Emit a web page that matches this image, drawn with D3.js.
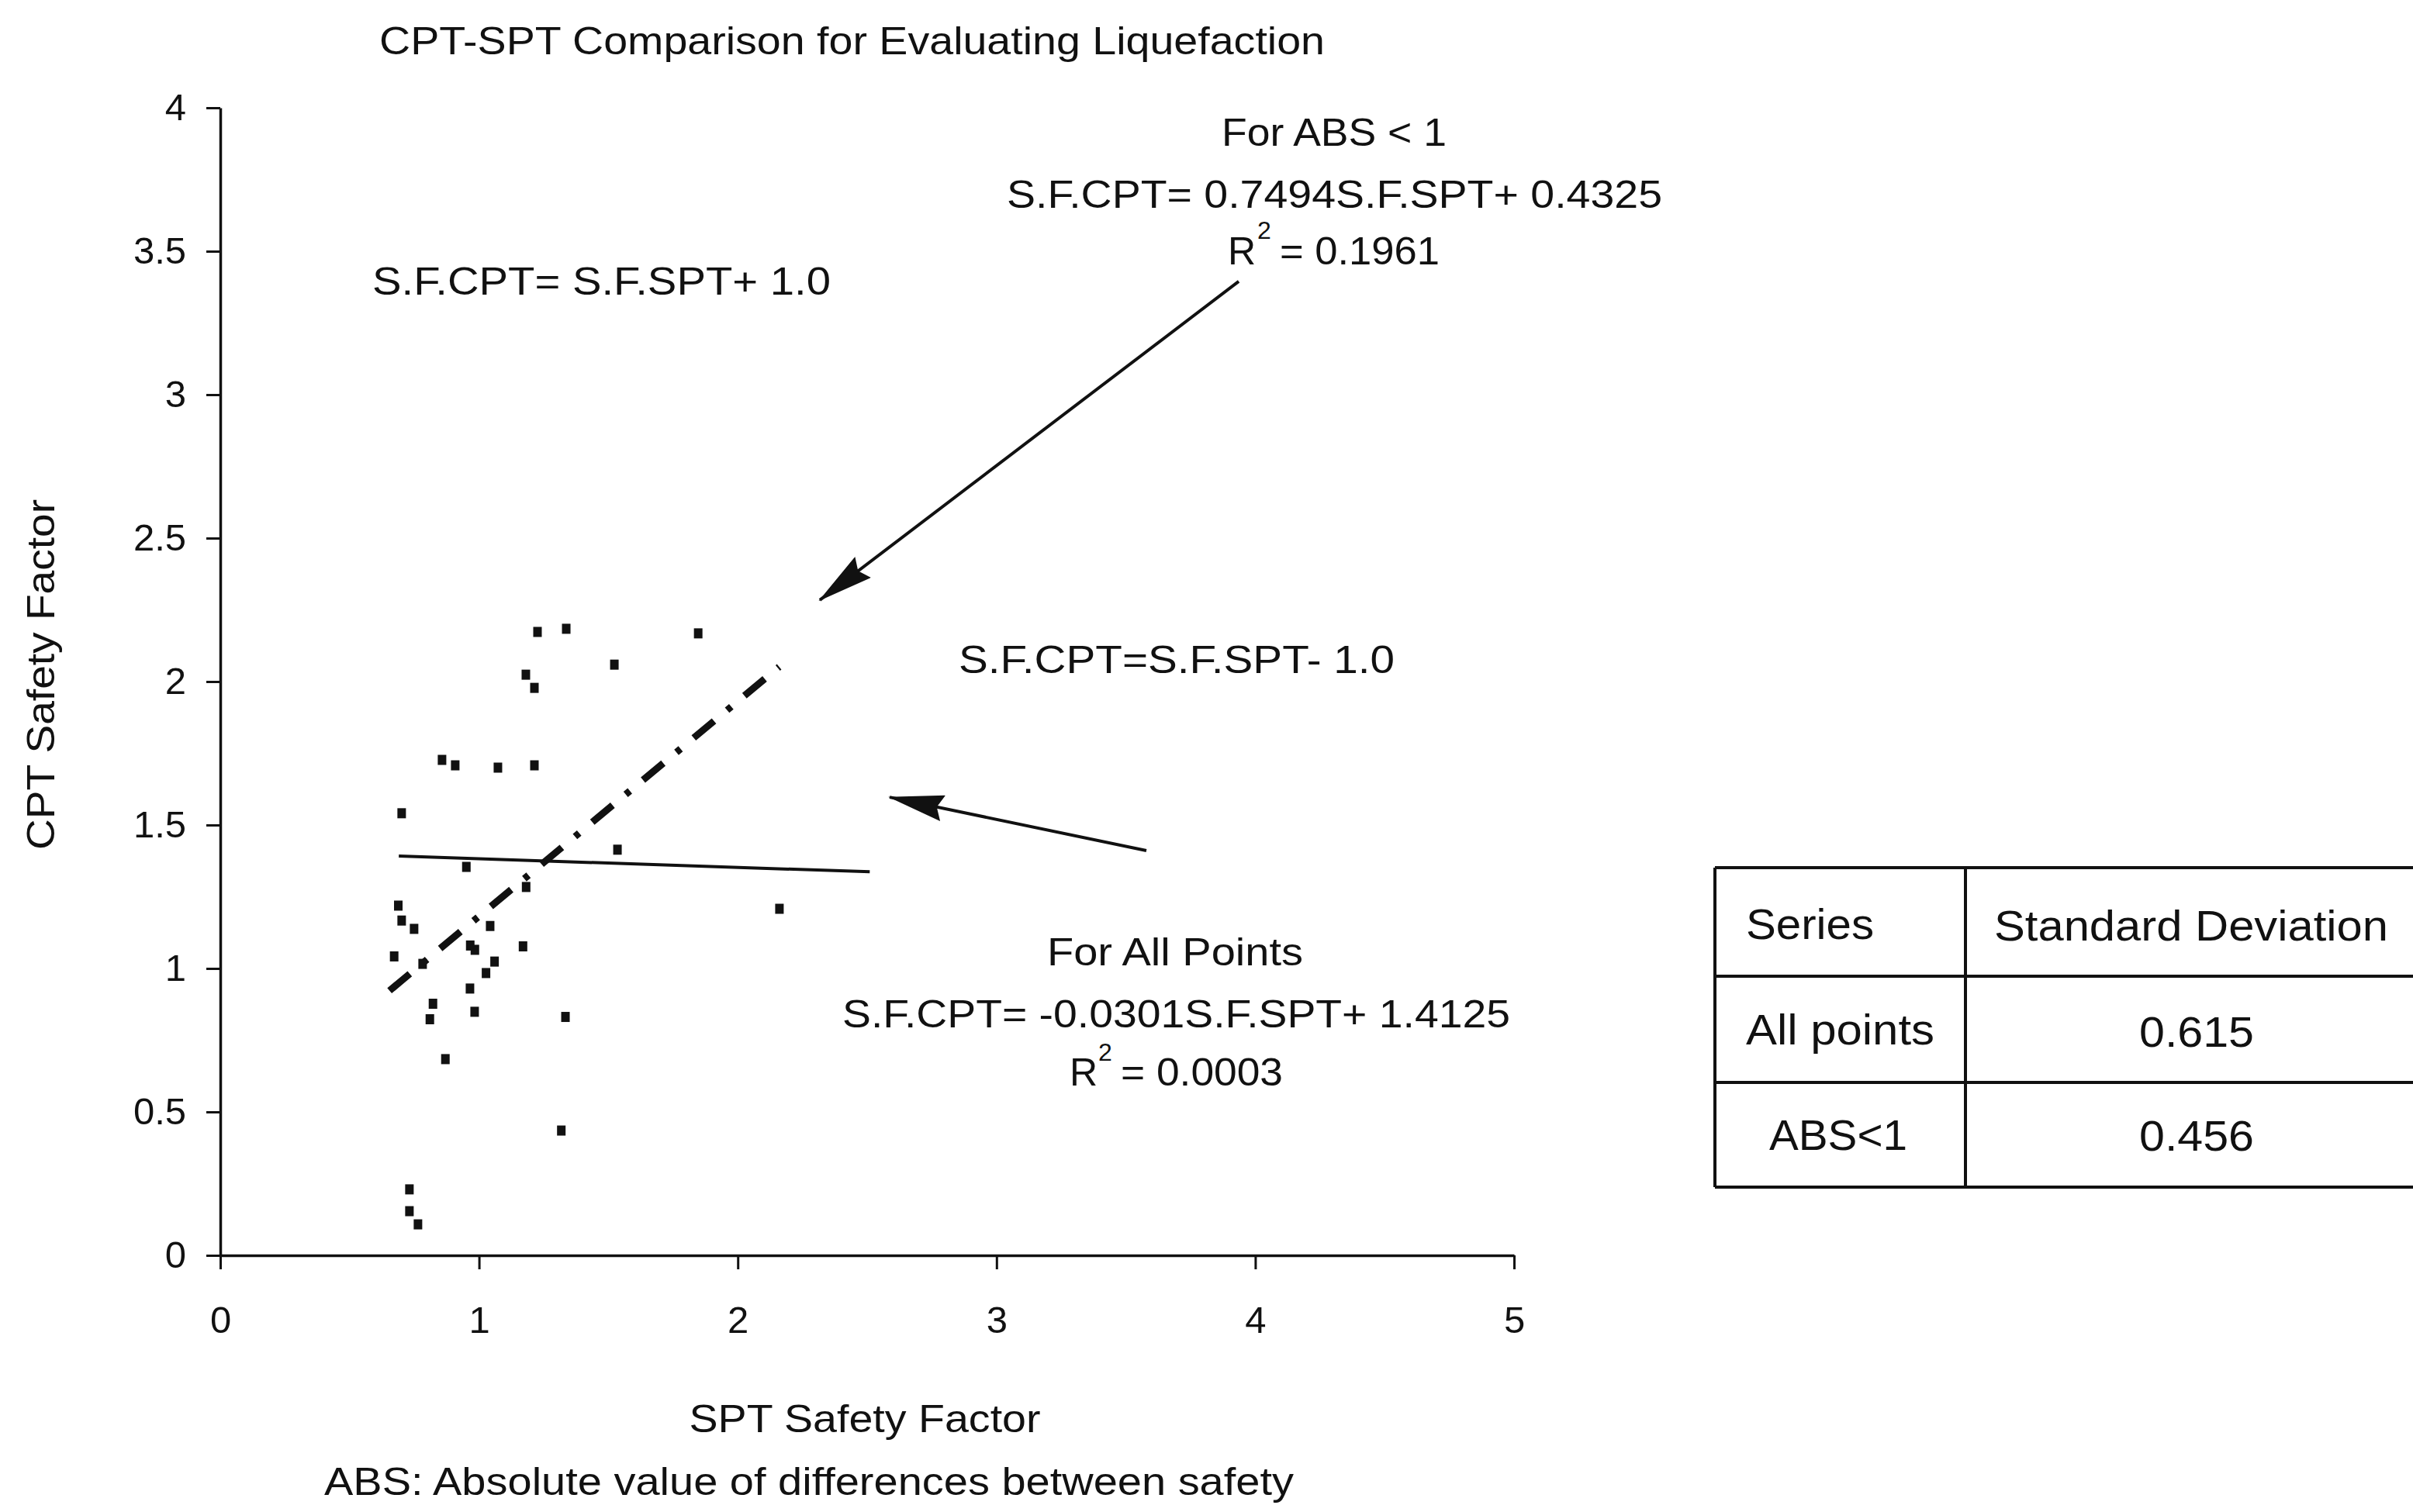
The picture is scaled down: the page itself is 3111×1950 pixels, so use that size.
<!DOCTYPE html>
<html><head><meta charset="utf-8">
<script src="https://cdn.jsdelivr.net/npm/d3@7"></script>
<style>
body{margin:0;background:#fff}
svg{display:block}
text{font-family:"Liberation Sans",Arial,Helvetica,sans-serif;fill:#111}
</style>
</head><body>
<svg id="chart" width="3111" height="1950"></svg>
<script>
// ---- data ----
const sptSF = [1.226,1.337,1.847,1.523,1.181,1.214,0.857,0.908,1.073,1.214,0.701,1.535,
               0.951,1.182,2.161,0.688,0.701,0.749,1.043,1.170,0.672,0.782,0.966,0.984,
               1.060,1.027,0.965,0.822,0.810,0.983,1.334,0.870,1.318,0.731,0.731,0.764];
const cptSF = [2.173,2.184,2.168,2.059,2.024,1.978,1.727,1.708,1.700,1.708,1.541,1.414,
               1.354,1.284,1.208,1.219,1.167,1.138,1.148,1.077,1.042,1.016,1.080,1.065,
               1.024,0.984,0.930,0.877,0.823,0.849,0.831,0.684,0.435,0.230,0.154,0.108];
const xTicks = [0,1,2,3,4,5];
const yTicks = [0,0.5,1,1.5,2,2.5,3,3.5,4];
const fitAllCoef = [-0.0301, 1.4125];
const fitAllRange = [0.69, 2.51];
const fitAbsCoef = [0.7494, 0.4325];
const fitAbsRange = [0.654, 2.16];
const arrowFrom = [[3.936,3.395],[3.579,1.411]];
const arrowTo   = [[2.317,2.284],[2.587,1.597]];
const tableHead = ["Series","Standard Deviation"];
const tableSeries = ["All points","ABS<1"];
const tableStd = ["0.615","0.456"];

const svg = d3.select("#chart");
const x = d3.scaleLinear().domain([0,5]).range([284,1952]);
const y = d3.scaleLinear().domain([0,4]).range([1619,139]);
const ink = "#111";

// arrow marker
svg.append("defs").append("marker")
  .attr("id","ah").attr("markerUnits","userSpaceOnUse")
  .attr("viewBox","0 0 72 34").attr("refX",70).attr("refY",17)
  .attr("markerWidth",72).attr("markerHeight",34).attr("orient","auto")
  .append("path").attr("d","M0,0 L72,17 L0,34 L8,17 Z").attr("fill",ink);

// axes
const gx = svg.append("g").attr("transform",`translate(0,${y(0)})`)
  .call(d3.axisBottom(x).tickValues(xTicks).tickSize(18).tickSizeOuter(0).tickPadding(47).tickFormat(d=>String(d)));
const gy = svg.append("g").attr("transform",`translate(${x(0)},0)`)
  .call(d3.axisLeft(y).tickValues(yTicks).tickSize(18).tickSizeOuter(0).tickPadding(26).tickFormat(d=>String(d)));
[gx,gy].forEach(g=>{
  g.select(".domain").attr("stroke",ink).attr("stroke-width",3.5);
  g.selectAll(".tick line").attr("stroke",ink).attr("stroke-width",3);
  g.selectAll(".tick text").attr("fill",ink).style("font-size","49px")
    .style("font-family",'"Liberation Sans",Arial,sans-serif');
});

// trend line: all points
svg.append("line")
  .attr("x1",x(fitAllRange[0])).attr("y1",y(fitAllCoef[0]*fitAllRange[0]+fitAllCoef[1]))
  .attr("x2",x(fitAllRange[1])).attr("y2",y(fitAllCoef[0]*fitAllRange[1]+fitAllCoef[1]))
  .attr("stroke",ink).attr("stroke-width",4);

// trend line: ABS < 1 (dash-dot)
svg.append("line")
  .attr("x1",x(fitAbsRange[0])).attr("y1",y(fitAbsCoef[0]*fitAbsRange[0]+fitAbsCoef[1]))
  .attr("x2",x(fitAbsRange[1])).attr("y2",y(fitAbsCoef[0]*fitAbsRange[1]+fitAbsCoef[1]))
  .attr("stroke",ink).attr("stroke-width",9).attr("stroke-dasharray","34,22,7,22");

// points
svg.append("g").selectAll("rect").data(sptSF).join("rect")
  .attr("x",(d)=>x(d)-5.5).attr("y",(d,i)=>y(cptSF[i])-6.5)
  .attr("width",11).attr("height",13).attr("fill",ink);

// arrows
arrowFrom.forEach((p,i)=>{
  svg.append("line")
    .attr("x1",x(p[0])).attr("y1",y(p[1]))
    .attr("x2",x(arrowTo[i][0])).attr("y2",y(arrowTo[i][1]))
    .attr("stroke",ink).attr("stroke-width",4).attr("marker-end","url(#ah)");
});

// text helper
function txt(s,xp,yp,size,len,anchor){
  const t = svg.append("text").attr("x",xp).attr("y",yp).style("font-size",size+"px")
    .attr("text-anchor",anchor||"start").text(s);
  if(len){ t.attr("textLength",len).attr("lengthAdjust","spacingAndGlyphs"); }
  return t;
}

// title
txt("CPT-SPT Comparison for Evaluating Liquefaction",489,70,50,1219);
// axis titles
txt("SPT Safety Factor",1115,1847,50,453,"middle");
svg.append("text").attr("transform","translate(70,870) rotate(-90)")
  .attr("text-anchor","middle").style("font-size","50px")
  .attr("textLength",452).attr("lengthAdjust","spacingAndGlyphs").text("CPT Safety Factor");
// footnote
txt("ABS: Absolute value of differences between safety",418,1928,50,1250);

// annotations
txt("For ABS < 1",1575,188,50,290);
txt("S.F.CPT= 0.7494S.F.SPT+ 0.4325",1298,268,50,845);
txt("R",1583,341,50);
txt("2",1621,308,32);
txt("= 0.1961",1650,341,50,206);
txt("S.F.CPT= S.F.SPT+ 1.0",480,380,50,591);
txt("S.F.CPT=S.F.SPT- 1.0",1236,868,50,562);
txt("For All Points",1350,1245,50,330);
txt("S.F.CPT= -0.0301S.F.SPT+ 1.4125",1086,1325,50,861);
txt("R",1379,1400,50);
txt("2",1416,1368,32);
txt("= 0.0003",1445,1400,50,209);

// table
const tb = svg.append("g");
const tL=2211, tC=2534, tR=3125, rows=[1119,1259,1396,1531];
rows.forEach(r=>tb.append("line").attr("x1",tL).attr("x2",tR).attr("y1",r).attr("y2",r)
  .attr("stroke",ink).attr("stroke-width",4));
[tL,tC].forEach(c=>tb.append("line").attr("x1",c).attr("x2",c).attr("y1",rows[0]).attr("y2",rows[3])
  .attr("stroke",ink).attr("stroke-width",4));
txt(tableHead[0],2251,1211,56,165);
txt(tableHead[1],2571,1213,56,508);
txt(tableSeries[0],2251,1347,56,243);
txt(tableSeries[1],2281,1483,56,178);
txt(tableStd[0],2832,1350,56,148,"middle");
txt(tableStd[1],2832,1484,56,148,"middle");
</script>
</body></html>
